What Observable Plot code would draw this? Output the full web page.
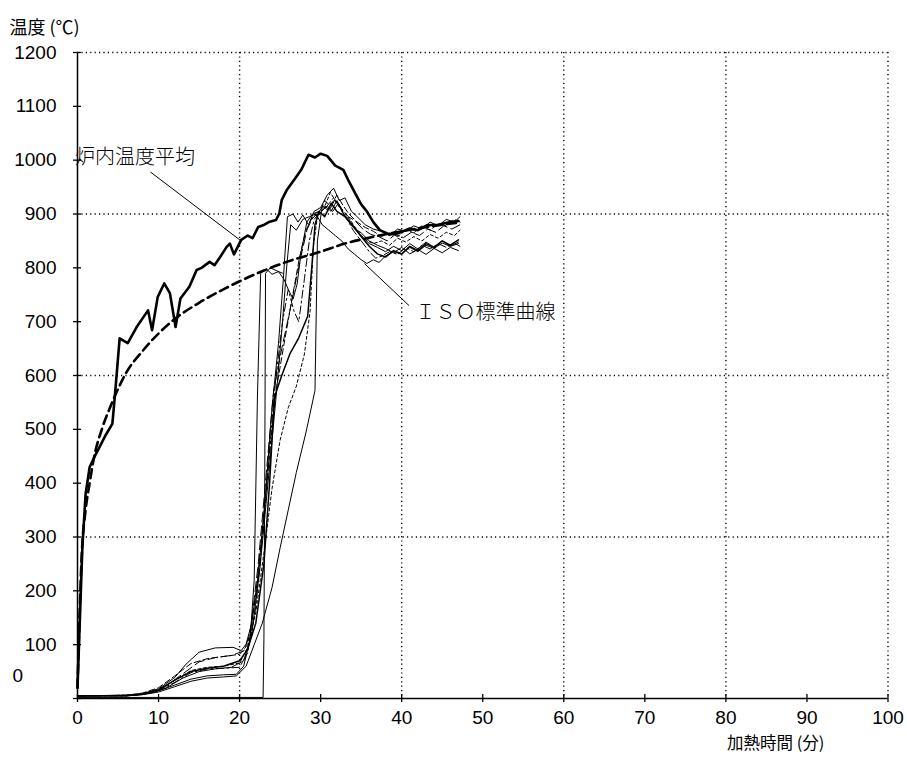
<!DOCTYPE html>
<html><head><meta charset="utf-8">
<script src="https://cdn.jsdelivr.net/npm/d3@7"></script>
<script src="https://cdn.jsdelivr.net/npm/@observablehq/plot@0.6"></script>
<style>body{margin:0;background:#fff}</style>
</head><body><div id="chart"></div>
<script>
// Axis ticks
const xTicks = [0,10,20,30,40,50,60,70,80,90,100];
const yTicks = [0,100,200,300,400,500,600,700,800,900,1000,1100,1200];
const xGrid = [20,40,60,80,100];
const yGrid = [300,600,900,1200];

// 炉内温度平均 (furnace average) [min, °C]
const furnace = [[0,20],[0.3,150],[0.6,280],[1,380],[1.5,430],[2.3,455],[3.5,490],[4.3,510],[4.6,560],[5.2,669],[6.2,660],[7.3,690],[8.7,721],[9.2,684],[9.9,746],[10.7,771],[11.4,753],[12.1,690],[12.7,743],[13.8,765],[14.7,796],[15.3,800],[16.3,811],[16.9,805],[17.6,820],[18.4,839],[18.8,845],[19.3,825],[20.2,852],[21,860],[21.6,855],[22.3,876],[22.9,879],[23.6,885],[24.5,889],[24.9,901],[25.2,926],[25.8,944],[27,969],[27.6,982],[28.5,1010],[29.3,1005],[30,1012],[30.8,1008],[31.8,990],[32.8,982],[33.5,960],[34.2,940],[35,918],[35.7,905],[36.5,885],[37.3,870],[38.5,862],[39.5,864],[41,873],[42,870],[43.1,879],[44.5,880],[46,885],[47,887]];

// ISO標準曲線
const iso = [[0,20],[0.25,150],[0.5,260],[1,350],[1.5,400],[2,445],[3,500],[4,540],[5,575],[6,605],[8,645],[10,678],[12,705],[15,735],[18,760],[20,775],[23,795],[26,812],[30,830],[33,845],[36,856],[40,868],[44,878],[47,884]];

// Specimen thermocouples
const s1 = [[0,5],[6,5],[8,8],[10,14],[12,25],[14,36],[16,42],[18,44],[19.6,45],[20.5,60],[21.3,110],[21.8,220],[22.2,560],[22.6,790],[23.3,798],[24,788],[24.8,793],[25.5,778],[26,760],[26.6,742],[27.1,770],[27.6,830],[28.3,885],[29,900],[29.8,905],[30.5,915],[31.3,905],[32,925],[32.8,900],[33.5,890],[34.3,870],[35,860],[36,845],[37,838],[38,830],[39,840],[40,832],[41,845],[42,835],[43,848],[44,838],[45,850],[46,840],[47,848]];
const s2 = [[0,5],[6,6],[8,9],[10,18],[12,39],[13.4,64],[15,86],[17,94],[19.2,95],[20.2,89],[20.8,101],[21.5,140],[22.3,230],[23.2,380],[24,540],[24.8,660],[25.4,780],[25.9,895],[26.6,900],[27.2,885],[27.8,898],[28.5,880],[29.2,905],[30,912],[30.8,935],[31.6,948],[32.3,925],[33,930],[33.8,905],[34.5,895],[35.5,880],[36.5,872],[37.5,868],[38.5,860],[39.5,872],[40.5,868],[41.5,878],[42.5,872],[43.5,885],[44.5,878],[45.5,890],[46.5,885],[47.2,895]];
const s3 = [[0,5],[6,5],[8,7],[10,12],[12,22],[14,32],[16,38],[18,40],[19.6,42],[20.8,60],[21.8,100],[22.8,140],[24,206],[25,280],[26,350],[27,420],[28.2,495],[29.3,572],[29.6,850],[30.1,905],[30.8,915],[31.5,905],[32.2,920],[33,895],[34,875],[35,865],[36,850],[37,842],[38,836],[39,828],[40,838],[41,826],[42,834],[43,825],[44,836],[45,828],[46,838],[47,832]];
const s4 = [[0,5],[6,6],[8,10],[10,20],[12,42],[14,65],[16,74],[18,78],[20,82],[21,100],[22,190],[23,340],[23.8,470],[24.5,572],[25.5,660],[26.5,745],[27.4,820],[28.2,870],[29,895],[29.8,900],[30.5,925],[31.2,915],[32,935],[32.8,915],[33.5,900],[34.5,885],[35.5,875],[36.5,868],[37.5,858],[38.5,865],[39.5,858],[40.5,870],[41.5,865],[42.5,878],[43.5,870],[44.5,882],[45.5,878],[46.5,890],[47.2,885]];
const s5 = [[0,5],[6,6],[8,9],[10,16],[12,34],[14,52],[16,58],[18,60],[20,66],[21,95],[22,160],[23,270],[24,390],[25,480],[26,540],[27,580],[28,640],[28.7,720],[29.1,840],[29.6,895],[30.4,910],[31.2,940],[32,920],[32.8,905],[33.6,890],[34.5,870],[35.5,852],[36.5,845],[37.5,850],[38.5,842],[39.5,855],[40.5,848],[41.5,858],[42.5,850],[43.5,862],[44.5,855],[45.5,866],[46.5,860],[47.2,870]];
const s6 = [[0,5],[6,5],[8,8],[10,15],[12,30],[14,48],[16,55],[18,56],[20,58],[21,85],[22,170],[23,330],[23.8,480],[24.5,600],[25.3,700],[26,760],[26.7,720],[27.3,700],[28,780],[28.6,850],[29.2,890],[30,905],[30.8,915],[31.6,930],[32.4,910],[33.2,892],[34,870],[35,850],[36,830],[36.8,818],[37.6,822],[38.5,830],[39.5,825],[40.5,838],[41.5,830],[42.5,842],[43.5,835],[44.5,845],[45.5,838],[46.5,846],[47.2,840]];
const s7 = [[0,5],[6,5],[8,8],[10,16],[12,34],[14,50],[16,56],[18,60],[20,70],[21,92],[22,140],[23,250],[23.7,400],[24.3,560],[25.2,600],[26.2,640],[27.3,670],[28.4,710],[28.9,800],[29.3,880],[29.8,905],[30.5,895],[31.3,920],[32,905],[33,895],[34,878],[35,858],[36,840],[37,826],[38,820],[39,832],[40,826],[41,840],[42,832],[43,845],[44,838],[45,850],[46,842],[47,852]];
const s8 = [[0,5],[7,6],[9,12],[11,24],[13,46],[15,68],[17,76],[19,80],[20.5,88],[21.3,120],[22.3,250],[23.3,420],[24.2,572],[25.2,650],[26.2,720],[27,780],[27.7,830],[28.3,870],[28.9,890],[29.5,900],[30.3,915],[31,905],[31.8,928],[32.6,910],[33.4,895],[34.2,888],[35.2,872],[36.2,862],[37.2,858],[38.2,850],[39.2,862],[40.2,856],[41.2,866],[42.2,860],[43.2,872],[44.2,866],[45.2,878],[46.2,872],[47.2,880]];
const s9 = [[0,5],[7,6],[9,10],[11,20],[13,38],[15,50],[17,55],[19,58],[20.5,70],[21.5,120],[22.5,240],[23.5,400],[24.5,560],[25.3,700],[25.8,800],[26.3,880],[27,870],[27.8,890],[28.6,895],[29.4,900],[30.2,880],[31,870],[31.8,860],[32.6,850],[33.4,835],[34.2,825],[35,815],[35.7,808],[36.5,815],[37.2,810],[38,822],[39,830],[40,825],[41,838],[42,830],[43,842],[44,836],[45,846],[46,840],[47,845]];
const s10 = [[0,2],[22.9,2],[23,110],[23.1,400],[23.2,790],[23.8,800],[24.5,795],[25.3,790]];

// Annotations: label anchor and leader line
const labels = [
  {text: "炉内温度平均", x: -0.3, y: 1004},
  {text: "ＩＳＯ標準曲線", x: 41.7, y: 716}
];
const leaders = [
  {x1: 9.0, y1: 978, x2: 20.1, y2: 851},
  {x1: 35.4, y1: 808, x2: 40.9, y2: 730}
];

const specimens = [
  {d: s1, dash: null, w: 1},
  {d: s2, dash: null, w: 1},
  {d: s3, dash: null, w: 1},
  {d: s4, dash: "6,3", w: 1},
  {d: s5, dash: "3,2.5", w: 1},
  {d: s6, dash: "8,3,2,3", w: 1},
  {d: s7, dash: null, w: 1.5},
  {d: s8, dash: "10,4", w: 1},
  {d: s9, dash: null, w: 1},
  {d: s10, dash: null, w: 1}
];

const X = d => d[0], Y = d => d[1];
const dotted = {stroke: "#000", strokeOpacity: 1, strokeWidth: 1.4, strokeDasharray: "1.2,3.2"};
const blank = () => "";
const plain = d => String(d);
const noZero = d => d === 0 ? "" : String(d);

const chart = Plot.plot({
  width: 907, height: 763,
  marginLeft: 77, marginRight: 19.5, marginTop: 52, marginBottom: 65,
  style: {fontFamily: "'Liberation Sans', Arial, sans-serif", background: "#fff", color: "#000"},
  x: {domain: [0, 100]},
  y: {domain: [0, 1200]},
  marks: [
    Plot.gridX(xGrid, dotted),
    Plot.gridY(yGrid, dotted),
    Plot.ruleX([0], {stroke: "#000", strokeWidth: 1.5}),
    Plot.ruleY([0], {stroke: "#000", strokeWidth: 1.5}),
    Plot.axisX(xTicks, {anchor: "bottom", tickSize: 8, dy: -4, strokeWidth: 1.3, tickFormat: blank, label: null}),
    Plot.axisX(xTicks, {anchor: "bottom", tickSize: 0, tickPadding: 12, fontSize: 19, tickFormat: plain, label: null}),
    Plot.axisY(yTicks, {anchor: "left", tickSize: 8, dx: 4, strokeWidth: 1.3, tickFormat: blank, label: null}),
    Plot.axisY(yTicks, {anchor: "left", tickSize: 0, tickPadding: 21, fontSize: 19, tickFormat: noZero, label: null}),
    Plot.text(["0"], {frameAnchor: "bottom-left", dx: -65, dy: -17, textAnchor: "start", fontSize: 19}),
    ...specimens.map(s => Plot.line(s.d, {x: X, y: Y, stroke: "#000", strokeWidth: s.w, strokeDasharray: s.dash, curve: "linear"})),
    Plot.line(iso, {x: X, y: Y, stroke: "#000", strokeWidth: 2.6, strokeDasharray: "9,5", curve: "monotone-x"}),
    Plot.line(furnace, {x: X, y: Y, stroke: "#000", strokeWidth: 2.6}),
    Plot.link(leaders, {x1: "x1", y1: "y1", x2: "x2", y2: "y2", stroke: "#000", strokeWidth: 1}),
    Plot.text(labels, {x: "x", y: "y", text: "text", textAnchor: "start", fontSize: 20, fontFamily: "'Noto Sans CJK JP', sans-serif", fontWeight: 300}),
    Plot.text(["温度 (℃)"], {frameAnchor: "top-left", dx: -68, dy: -31, textAnchor: "start", fontSize: 18, fontFamily: "'Noto Sans CJK JP', sans-serif"}),
    Plot.text(["加熱時間 (分)"], {frameAnchor: "bottom-right", dx: -161, dy: 50, textAnchor: "start", fontSize: 16.5, fontFamily: "'Noto Sans CJK JP', sans-serif"})
  ]
});
document.getElementById("chart").append(chart);
</script>
</body></html>
